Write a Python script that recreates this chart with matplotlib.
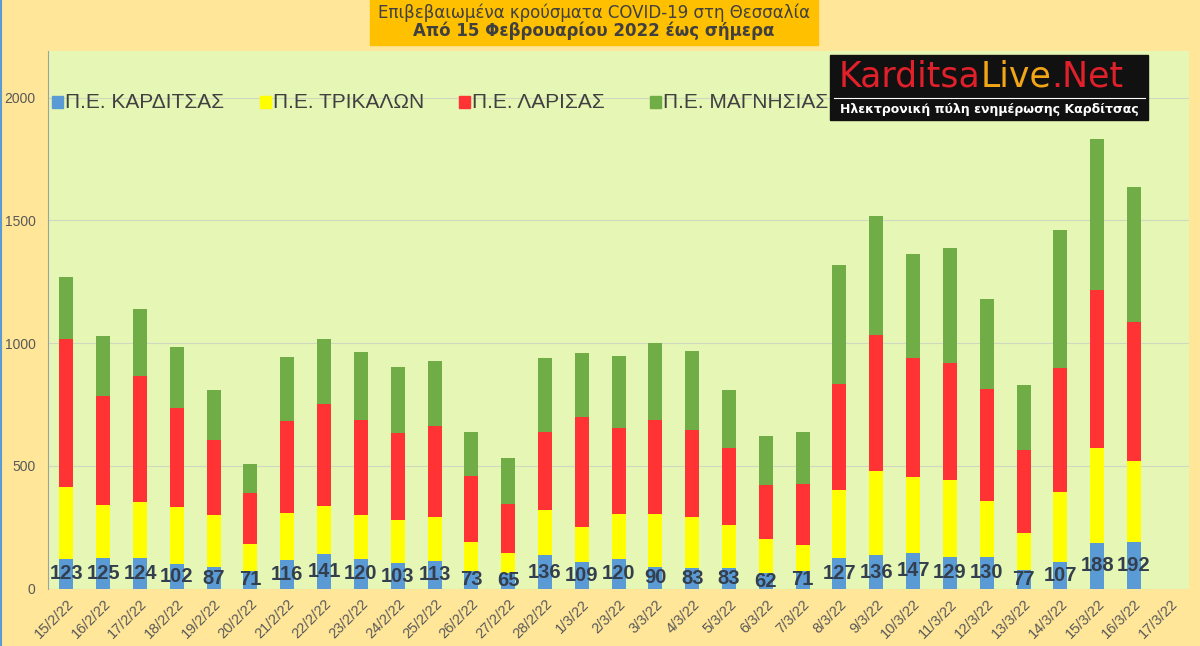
import matplotlib
matplotlib.use("Agg")
import matplotlib.pyplot as plt
import numpy as np
from matplotlib.patches import Rectangle
from matplotlib.lines import Line2D

# data
dates = ["15/2/22", "16/2/22", "17/2/22", "18/2/22", "19/2/22", "20/2/22", "21/2/22",
         "22/2/22", "23/2/22", "24/2/22", "25/2/22", "26/2/22", "27/2/22", "28/2/22",
         "1/3/22", "2/3/22", "3/3/22", "4/3/22", "5/3/22", "6/3/22", "7/3/22", "8/3/22",
         "9/3/22", "10/3/22", "11/3/22", "12/3/22", "13/3/22", "14/3/22", "15/3/22",
         "16/3/22", "17/3/22"]
karditsa = [123, 125, 124, 102, 87, 71, 116, 141, 120, 103, 113, 73, 65, 136, 109, 120,
            90, 83, 83, 62, 71, 127, 136, 147, 129, 130, 77, 107, 188, 192, np.nan]
trikala = [292, 216, 229, 231, 212, 111, 193, 196, 180, 177, 179, 119, 80, 185, 141, 185,
           215, 208, 177, 142, 108, 274, 344, 308, 314, 226, 149, 286, 387, 330, np.nan]
larisa = [603, 443, 514, 401, 306, 207, 373, 415, 388, 355, 371, 267, 202, 318, 451, 350,
          384, 356, 312, 219, 248, 434, 552, 484, 475, 458, 337, 504, 643, 563, np.nan]
magnisia = [252, 245, 273, 249, 204, 119, 263, 265, 278, 269, 265, 179, 186, 302, 261, 291,
            311, 323, 237, 198, 211, 482, 485, 423, 470, 368, 266, 565, 615, 553, np.nan]
series_names = ["Π.Ε. ΚΑΡΔΙΤΣΑΣ", "Π.Ε. ΤΡΙΚΑΛΩΝ", "Π.Ε. ΛΑΡΙΣΑΣ", "Π.Ε. ΜΑΓΝΗΣΙΑΣ"]
colors = ["#5B9BD5", "#FFFF00", "#FF3333", "#70AD47"]

SANS = ["Liberation Sans", "DejaVu Sans"]
TXT = "#404040"

fig = plt.figure(figsize=(12, 6.46), dpi=100, facecolor="#FFE699")
ax = fig.add_axes([0.04, 0.0887, 0.951, 0.8323], facecolor="#E6F6B4")

x = np.arange(len(dates))
bottom = np.zeros(len(dates))
bars = []
for vals, c in zip([karditsa, trikala, larisa, magnisia], colors):
    v = np.array(vals, dtype=float)
    b = ax.bar(x, np.nan_to_num(v), 0.38, bottom=bottom, color=c, zorder=2)
    bars.append(b)
    bottom += np.nan_to_num(v)

labels = ["" if np.isnan(v) else str(int(v)) for v in karditsa]
ax.bar_label(bars[0], labels=labels, label_type="center", fontsize=14.5,
             fontweight="bold", color="#333F4F", family=SANS)

ax.set_xlim(-0.5, len(dates) - 0.5)
ax.set_ylim(0, 2190)
ax.set_yticks([0, 500, 1000, 1500, 2000])
ax.grid(axis="y", color="#D0D8C0", linewidth=0.8, zorder=0)
ax.set_xticks(x)
ax.set_xticklabels(dates, rotation=45, ha="right", va="top", rotation_mode="anchor",
                   fontsize=10.5, color="#595959", family=SANS)
for t in ax.get_yticklabels():
    t.set_family(SANS)
ax.tick_params(axis="y", labelsize=10, labelcolor="#595959", length=0, pad=9)
ax.tick_params(axis="x", length=0, pad=6)
for s in ["top", "right", "bottom"]:
    ax.spines[s].set_visible(False)
ax.spines["left"].set_color("#A0A0A0")
ax.spines["left"].set_linewidth(0.8)

# legend drawn by hand along the top of the plot
leg_x = [0.0433, 0.2167, 0.3825, 0.5417]
for lx, name, c in zip(leg_x, series_names, colors):
    fig.patches.append(Rectangle((lx, 0.8325), 0.0095, 0.019, transform=fig.transFigure,
                                 color=c, zorder=5))
    fig.text(lx + 0.0108, 0.8413, name, fontsize=15, color=TXT, va="center",
             family=SANS, zorder=5)

# title box
fig.patches.append(Rectangle((0.308, 0.930), 0.374, 0.07, transform=fig.transFigure,
                             color="#FFC000", zorder=1))
fig.text(0.495, 0.981, "Επιβεβαιωμένα κρούσματα COVID-19 στη Θεσσαλία", ha="center",
         va="center", fontsize=12, color=TXT)
fig.text(0.495, 0.952, "Από 15 Φεβρουαρίου 2022 έως σήμερα", ha="center", va="center",
         fontsize=12, fontweight="bold", color=TXT)

# logo box
fig.patches.append(Rectangle((0.692, 0.814), 0.265, 0.101, transform=fig.transFigure,
                             color="#111111", zorder=5))
fig.lines.append(Line2D([0.695, 0.954], [0.849, 0.849], transform=fig.transFigure,
                        color="white", linewidth=0.8, zorder=6))
fig.text(0.8245, 0.831, "Ηλεκτρονική πύλη ενημέρωσης Καρδίτσας", ha="center", va="center",
         fontsize=9, fontweight="bold", color="white", zorder=6)
renderer = fig.canvas.get_renderer()
pieces = [("Karditsa", "#E0202A"), ("Live", "#F2A516"), (".Net", "#E0202A")]
px = 0.699
for word, c in pieces:
    t = fig.text(px, 0.881, word, ha="left", va="center", fontsize=25, color=c,
                 family="DejaVu Sans", zorder=6)
    bb = t.get_window_extent(renderer)
    px += bb.width / fig.bbox.width

# thin blue frame line at the left edge
fig.lines.append(Line2D([0.001, 0.001], [0, 1], transform=fig.transFigure,
                        color="#5B9BD5", linewidth=1.5))

fig.savefig("out.png", dpi=100, facecolor=fig.get_facecolor())
